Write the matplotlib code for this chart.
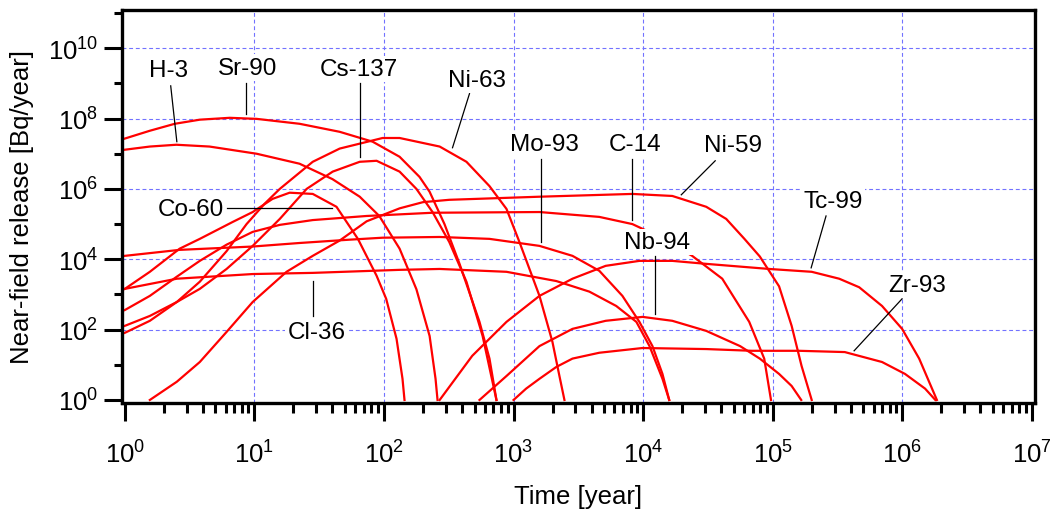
import matplotlib
matplotlib.use('Agg')
import matplotlib.pyplot as plt
from matplotlib.ticker import FixedLocator, FuncFormatter, NullFormatter
import numpy as np

plt.rcParams['font.family'] = ['Liberation Sans', 'DejaVu Sans']

# time [year] / release [Bq/year]
h3_t = [1, 1.56, 2.5, 4.5, 10.4, 22.3, 40, 65, 92, 132, 178, 225, 250, 259]
h3_v = [1.3e7, 1.6e7, 1.8e7, 1.6e7, 1.0e7, 5.2e6, 1.9e6, 6.0e5, 1.7e5, 2.0e4, 1.4e3, 66, 4, 1]

sr90_t = [1, 1.56, 2.43, 3.8, 6.45, 10.4, 22.3, 45.5, 81.7, 132, 188, 225, 293, 383, 546, 652, 738]
sr90_v = [2.7e7, 4.5e7, 7.1e7, 9.3e7, 1.05e8, 9.8e7, 7.1e7, 4.2e7, 2.2e7, 8.2e6, 2.2e6, 8.3e5, 1.0e5, 7.4e3, 166, 15, 1]

cs137_t = [1, 1.56, 2.52, 3.79, 6.1, 9.7, 15.7, 25.3, 40.2, 65, 87.7, 132, 178, 237, 319, 433, 577, 738]
cs137_v = [128, 245, 610, 1.44e3, 5.3e3, 2.4e4, 1.4e5, 1.0e6, 3.1e6, 5.9e6, 6.3e6, 3.1e6, 1.0e6, 2.2e5, 3.1e4, 2.3e3, 66, 1]

ni63_t = [1, 1.56, 2.52, 3.79, 6.1, 8.7, 12.0, 15.7, 28.2, 45.5, 97.6, 132, 269, 433, 652, 882, 1110, 1585, 1995, 2260, 2470]
ni63_v = [81, 178, 610, 2.3e3, 1.7e4, 1.0e5, 3.8e5, 1.0e6, 5.9e6, 1.4e7, 2.8e7, 2.8e7, 1.6e7, 5.9e6, 1.2e6, 2.7e5, 3.1e4, 910, 45, 4.8, 1]

co60_t = [1, 1.56, 2.65, 3.79, 6.8, 9.7, 13.8, 18.7, 28.2, 43, 62.9, 87.7, 104, 125, 139, 144]
co60_v = [1.44e3, 4.4e3, 2.0e4, 3.8e4, 1.15e5, 2.2e5, 5.2e5, 7.8e5, 7.2e5, 3.1e5, 3.8e4, 3.4e3, 750, 55, 4, 1]

mo93_t = [1, 2.65, 9.7, 22.3, 54, 97.6, 269, 652, 1585, 2850, 4590, 6920, 9360, 1.18e4, 1.41e4, 1.59e4]
mo93_v = [1.25e4, 1.85e4, 2.3e4, 2.9e4, 3.6e4, 4.1e4, 4.3e4, 3.8e4, 2.4e4, 1.25e4, 4.7e3, 910, 166, 34, 5.5, 1]

cl36_t = [1, 2.52, 9.7, 28.2, 132, 269, 882, 2140, 3850, 6200, 8870, 1.12e4, 1.41e4, 1.59e4]
cl36_v = [1.44e3, 2.8e3, 3.8e3, 4.1e3, 5.0e3, 5.3e3, 4.4e3, 2.4e3, 1.2e3, 470, 166, 34, 4, 1]

c14_t = [1, 1.56, 2.52, 3.79, 6.1, 9.7, 15.7, 28.2, 73.5, 237, 1585, 4590, 8260, 1.33e4, 2.39e4, 4.08e4, 6.59e4, 8.6e4, 9.7e4]
c14_v = [360, 910, 3.2e3, 9.0e3, 2.6e4, 6.0e4, 9.5e4, 1.3e5, 1.7e5, 2.1e5, 2.2e5, 1.6e5, 1.0e5, 4.4e4, 1.25e4, 2.8e3, 166, 15, 1]

ni59_t = [1.56, 2.52, 3.79, 6.1, 9.7, 17.7, 28.2, 45.5, 73.5, 132, 200, 319, 1585, 8260, 1.68e4, 3.07e4, 4.38e4, 6.05e4, 7.95e4, 1.12e5, 1.4e5, 1.67e5, 2.0e5]
ni59_v = [1, 3.3, 12, 86, 610, 4.4e3, 1.25e4, 3.4e4, 1.2e5, 2.8e5, 4.2e5, 4.9e5, 6.0e5, 7.2e5, 6.3e5, 3.1e5, 1.4e5, 3.8e4, 1.2e4, 1.7e3, 128, 9.3, 1]

tc99_t = [269, 480, 882, 1585, 2850, 5140, 9360, 1.68e4, 3.07e4, 9.4e4, 2.0e5, 3.26e5, 4.65e5, 6.98e5, 9.97e5, 1.35e6, 1.85e6]
tc99_v = [1, 18, 166, 910, 2.8e3, 6.5e3, 9.0e3, 9.0e3, 7.4e3, 5.3e3, 4.4e3, 2.8e3, 1.6e3, 470, 105, 15, 1]

nb94_t = [546, 882, 1585, 2850, 5140, 9900, 1.68e4, 3.07e4, 5.6e4, 7.95e4, 1.12e5, 1.4e5, 1.66e5]
nb94_v = [1, 4.8, 34, 105, 178, 230, 178, 92, 34, 15, 5.5, 2.5, 1]

zr93_t = [1000, 1250, 1585, 2140, 2850, 4590, 9900, 3.07e4, 6.9e4, 1.6e5, 3.6e5, 6.98e5, 1.05e6, 1.5e6, 1.8e6]
zr93_v = [1, 2.1, 4, 8.7, 15, 22, 30, 28, 25, 25, 23, 12, 5.5, 2.1, 1]

series = [(h3_t, h3_v), (sr90_t, sr90_v), (cs137_t, cs137_v), (ni63_t, ni63_v),
          (co60_t, co60_v), (mo93_t, mo93_v), (cl36_t, cl36_v), (c14_t, c14_v),
          (ni59_t, ni59_v), (tc99_t, tc99_v), (nb94_t, nb94_v), (zr93_t, zr93_v)]

# label text position, leader line start and end
labels = [
    ('H-3', (2.18, 2.45e9), (2.26, 8.5e8), (2.52, 2.2e7)),
    ('Sr-90', (8.9, 2.8e9), (8.56, 1.05e9), (8.56, 1.37e8)),
    ('Cs-137', (63.7, 2.6e9), (64.8, 1.05e9), (64.8, 8.2e6)),
    ('Ni-63', (518, 1.27e9), (457, 5.1e8), (338, 1.48e7)),
    ('Mo-93', (1730, 1.9e7), (1640, 7.2e6), (1640, 3.1e4)),
    ('C-14', (8710, 1.9e7), (8260, 7.2e6), (8260, 1.3e5)),
    ('Ni-59', (4.96e4, 1.8e7), (3.6e4, 6.3e6), (1.97e4, 6.8e5)),
    ('Tc-99', (2.93e5, 4.6e5), (2.58e5, 1.7e5), (1.98e5, 5.7e3)),
    ('Zr-93', (1.3e6, 1.9e3), (9.96e5, 750), (4.25e5, 25)),
    ('Nb-94', (1.29e4, 3.1e4), (1.24e4, 1.25e4), (1.24e4, 280)),
    ('Co-60', (3.23, 2.7e5), (6.1, 2.9e5), (39.4, 2.9e5)),
    ('Cl-36', (30.2, 86), (28.2, 2.4e3), (28.2, 245)),
]

fig = plt.figure(figsize=(10.52, 5.10), dpi=100)
ax = fig.add_axes([0.1157, 0.2073, 0.8681, 0.7717])
ax.set_xscale('log')
ax.set_yscale('log')
ax.set_xlim(10 ** -0.024, 10 ** 7.024)
ax.set_ylim(10 ** -0.094, 10 ** 11.094)

# grid
for e in range(1, 7):
    ax.axvline(10.0 ** e, color='#7272ff', lw=0.8, ls=(0, (3.5, 2.5)), zorder=0)
for e in range(2, 11, 2):
    ax.axhline(10.0 ** e, color='#7272ff', lw=0.8, ls=(0, (3.5, 2.5)), zorder=0)

for t, v in series:
    ax.plot(t, v, color='red', lw=1.6, zorder=2)

for name, txt, p0, p1 in labels:
    ax.plot([p0[0], p1[0]], [p0[1], p1[1]], color='black', lw=0.9, zorder=2.5)
    ax.text(txt[0], txt[1], name, fontsize=17.5, ha='center', va='center', zorder=3,
            bbox=dict(facecolor='white', edgecolor='none', pad=1.5))

# axes styling
for s in ax.spines.values():
    s.set_linewidth(2.4)

fmt = FuncFormatter(lambda v, p: r'$\mathregular{10^{%d}}$' % round(np.log10(v)))
ax.xaxis.set_major_locator(FixedLocator([10.0 ** e for e in range(0, 8)]))
ax.xaxis.set_minor_locator(FixedLocator([m * 10.0 ** e for e in range(0, 7) for m in range(2, 10)]))
ax.xaxis.set_major_formatter(fmt)
ax.xaxis.set_minor_formatter(NullFormatter())
ax.yaxis.set_major_locator(FixedLocator([10.0 ** e for e in range(0, 11, 2)]))
ax.yaxis.set_minor_locator(FixedLocator([10.0 ** e for e in range(1, 12, 2)]))
ax.yaxis.set_major_formatter(fmt)
ax.yaxis.set_minor_formatter(NullFormatter())

ax.tick_params(axis='x', which='major', direction='out', length=13, width=2.2, pad=14, labelsize=18.5)
ax.tick_params(axis='x', which='minor', direction='out', length=7.2, width=2.2)
ax.tick_params(axis='y', which='major', direction='out', length=13, width=2.2, pad=4, labelsize=18.5)
ax.tick_params(axis='y', which='minor', direction='out', length=5.5, width=2.2)

ax.set_xlabel('Time [year]', fontsize=18.5, labelpad=11.5)
ax.set_ylabel('Near-field release [Bq/year]', fontsize=18.5, labelpad=10)

fig.savefig('out.png', dpi=100)
